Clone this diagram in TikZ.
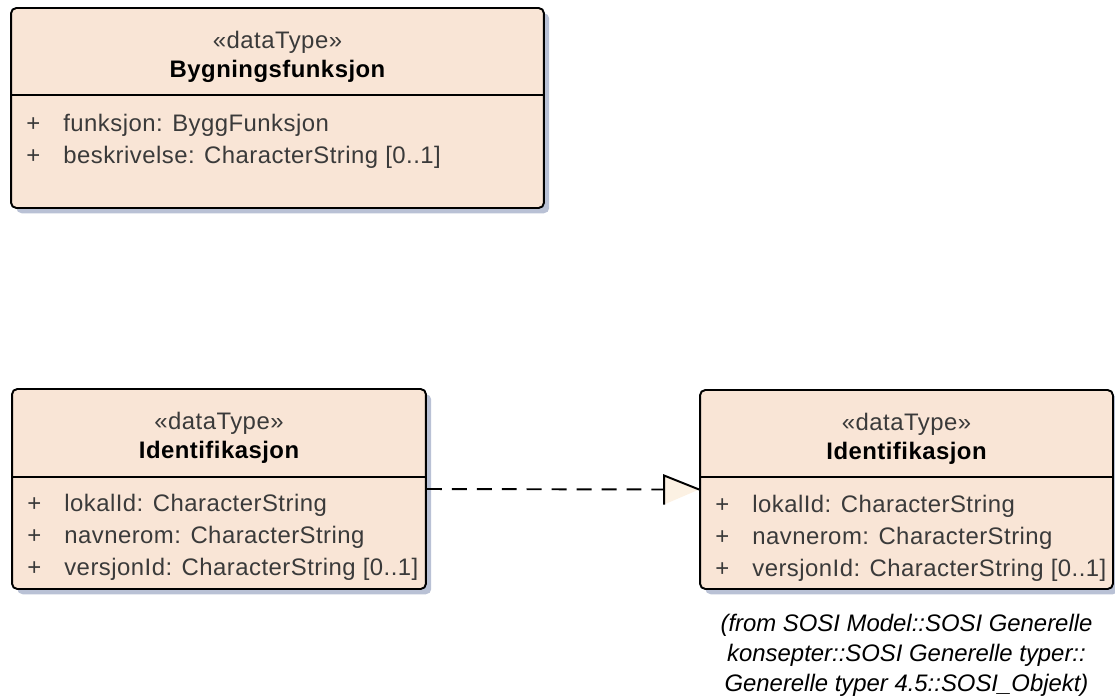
\documentclass[tikz,border=0pt]{standalone}
\usepackage{fontspec}
\setmainfont{Liberation Sans}[LetterSpace=2]
\usetikzlibrary{calc, shadows}

\definecolor{classfill}{HTML}{F9E5D6}
\definecolor{classshadow}{HTML}{B9C1D5}
\definecolor{attrtext}{HTML}{3A3A3A}
\definecolor{headfill}{HTML}{FCF1E3}

\newcommand{\attrline}[1]{\makebox[21pt][l]{+}#1}

\begin{document}
\begin{tikzpicture}[x=0.02cm, y=-0.02cm,
		every node/.style={font=\fontsize{13.6}{18.1}\selectfont},
		classbox/.style={draw=black, line width=1.1pt, fill=classfill, rounded corners=3pt, inner sep=0pt,
			drop shadow={shadow xshift=3pt, shadow yshift=-3pt, fill=classshadow, opacity=1}},
		stereo/.style={text=attrtext, inner sep=0pt},
		cname/.style={font=\fontsize{13.6}{18.1}\selectfont\bfseries, inner sep=0pt},
		attrs/.style={text=attrtext, align=left, anchor=north west, inner sep=0pt},
		note/.style={font=\fontsize{13.6}{17}\selectfont\itshape\addfontfeatures{LetterSpace=0}, align=center, anchor=north, inner sep=0pt}]
			\useasboundingbox (0, 0) rectangle (1115, 696);
			
			% the three classes
			\node[classbox, minimum width=10.66cm, minimum height=4cm] (bygn) at (277.5, 108) {};
			\node[classbox, minimum width=8.28cm, minimum height=4cm] (identA) at (219, 489) {};
			\node[classbox, minimum width=8.26cm, minimum height=3.98cm] (identB) at (906.5, 489.5) {};
			
			\draw[line width=1.1pt] ($(bygn.north west)+(0, 88)$) -- ($(bygn.north east)+(0, 88)$);
			\draw[line width=1.1pt] ($(identA.north west)+(0, 89)$) -- ($(identA.north east)+(0, 89)$);
			\draw[line width=1.1pt] ($(identB.north west)+(0, 88)$) -- ($(identB.north east)+(0, 88)$);
			
			\node[stereo] (bygnS) at ($(bygn.north)+(0, 35)$) {«dataType»};
			\node[cname] (bygnN) at ($(bygn.north)+(0, 64)$) {Bygningsfunksjon};
			\node[attrs] (bygnA) at ($(bygn.north west)+(16, 107)$) {\attrline{funksjon: ByggFunksjon}\\ \attrline{beskrivelse: CharacterString [0..1]}};
			
			\node[stereo] (identAS) at ($(identA.north)+(0, 35)$) {«dataType»};
			\node[cname] (identAN) at ($(identA.north)+(0, 64)$) {Identifikasjon};
			\node[attrs] (identAA) at ($(identA.north west)+(16, 106)$) {\attrline{lokalId: CharacterString}\\ \attrline{navnerom: CharacterString}\\ \attrline{versjonId: CharacterString [0..1]}};
			
			\node[stereo] (identBS) at ($(identB.north)+(0, 35)$) {«dataType»};
			\node[cname] (identBN) at ($(identB.north)+(0, 64)$) {Identifikasjon};
			\node[attrs] (identBA) at ($(identB.north west)+(16, 106)$) {\attrline{lokalId: CharacterString}\\ \attrline{navnerom: CharacterString}\\ \attrline{versjonId: CharacterString [0..1]}};
			
			\node[note] (identBnote) at ($(identB.south)+(0, 24)$) {(from SOSI Model::SOSI Generelle\\konsepter::SOSI Generelle typer::\\Generelle typer 4.5::SOSI\_Objekt)};
			
			% realization
			\coordinate (headbase) at ($(identB.west)+(-35, 0)$);
			\draw[line width=1.1pt, dash pattern=on 8.5pt off 5.7pt] (identA.east) -- (headbase);
			\fill[headfill] ($(headbase)+(0, -14)$) -- (identB.west) -- ($(headbase)+(0, 15)$) -- cycle;
			\draw[line width=1.1pt] ($(headbase)+(0, 15)$) -- ($(headbase)+(0, -14)$) -- (identB.west);
			
		\end{tikzpicture}
\end{document}
